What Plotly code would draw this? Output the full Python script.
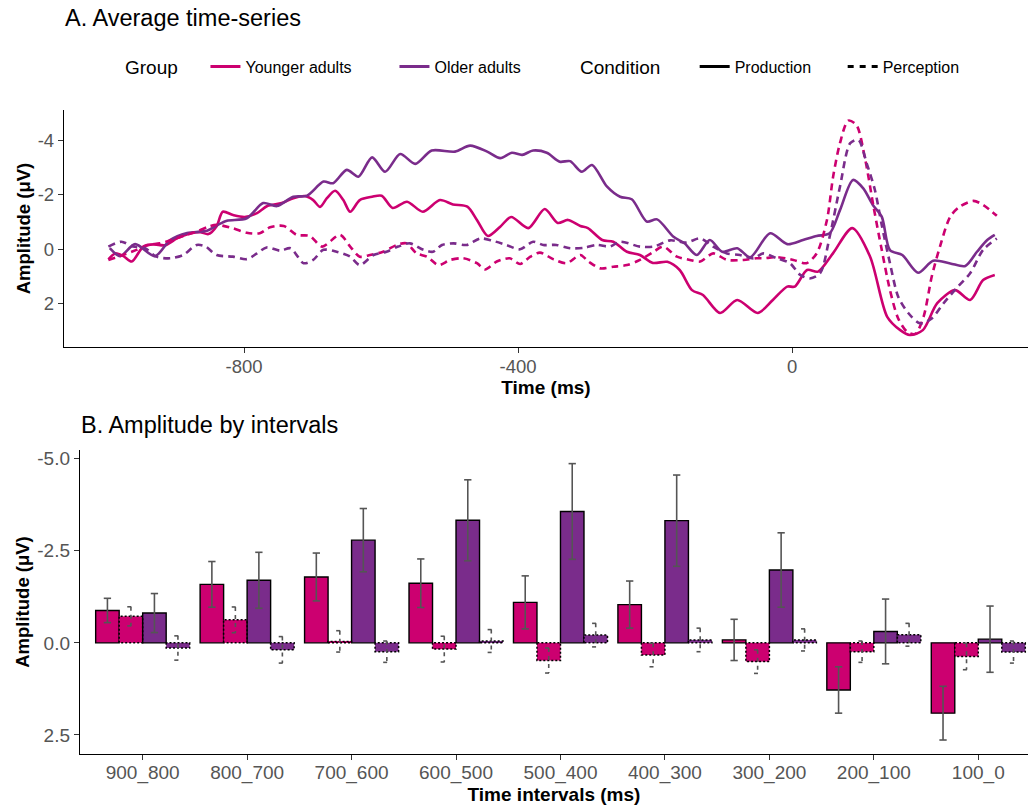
import plotly.graph_objects as go

# ---------------- data: panel A (time series, ms / µV) ----------------
yp_t = [-998,-988,-976,-964,-947,-932,-915,-898,-879,-864,-852,-840,-831,-816,-799,-781,-766,-745,-728,-711,-699,-689,-679,-667,-655,-645,-631,-613,-599,-583,-562,-539,-514,-495,-474,-460,-444,-426,-410,-385,-361,-342,-327,-309,-298,-277,-261,-241,-222,-203,-182,-164,-146,-130,-105,-80,-50,-28,-7,4,22,38,60,88,114,139,158,172,191,212,238,260,279,296]
yp_v = [0.37,0.15,0.25,0.45,-0.1,-0.18,-0.15,-0.4,-0.58,-0.63,-0.56,-0.85,-1.38,-1.26,-1.19,-1.33,-1.59,-1.70,-1.88,-1.96,-1.81,-1.56,-1.88,-2.15,-1.81,-1.38,-1.81,-1.93,-1.97,-1.52,-1.75,-1.38,-1.81,-1.65,-1.57,-1.08,-0.49,-0.83,-1.19,-0.78,-1.48,-0.97,-1.08,-0.86,-0.78,-0.34,-0.28,0.09,0.21,0.50,0.46,0.76,1.50,1.68,2.34,1.86,2.34,1.86,1.37,1.37,0.76,0.82,0.14,-0.78,0.27,2.48,2.97,3.15,2.97,1.98,1.50,1.86,1.13,0.94]

ype_t = [-998,-981,-957,-940,-923,-906,-889,-869,-852,-840,-816,-796,-777,-762,-742,-723,-704,-686,-660,-645,-631,-616,-597,-577,-563,-548,-533,-516,-499,-480,-460,-448,-431,-412,-397,-382,-368,-348,-329,-309,-297,-280,-261,-241,-222,-202,-188,-168,-149,-134,-115,-95,-71,-52,-42,-22,2,21,36,51,60,70,82,94,107,119,131,143,155,168,180,192,204,216,231,245,265,279,299]
ype_v = [0.39,0.25,0.02,-0.16,-0.22,-0.34,-0.49,-0.65,-0.83,-0.90,-0.77,-0.61,-0.59,-0.81,-0.86,-0.53,-0.49,-0.10,-0.53,-0.10,0.27,0.21,0.09,-0.16,-0.22,0.15,0.27,0.58,0.39,0.33,0.51,0.74,0.45,0.33,0.54,0.27,0.12,0.37,0.51,0.21,0.45,0.70,0.64,0.58,0.39,0.09,-0.10,0.27,0.39,0.45,0.15,0.39,0.39,0.33,0.33,0.29,0.39,0.51,0.15,-1.08,-2.67,-3.90,-4.73,-4.57,-3.28,-1.57,0.02,1.50,2.54,3.03,3.11,2.48,1.00,-0.10,-1.20,-1.57,-1.78,-1.63,-1.23]

op_t = [-996,-981,-959,-930,-908,-883,-854,-839,-825,-796,-772,-752,-728,-708,-684,-670,-650,-633,-613,-594,-572,-550,-526,-492,-470,-445,-426,-409,-394,-378,-358,-339,-324,-307,-292,-270,-251,-234,-212,-197,-173,-157,-139,-120,-102,-80,-61,-32,-7,16,36,55,70,89,104,118,131,143,161,184,206,231,253,270,285,296]
op_v = [-0.04,0.25,-0.19,0.25,-0.34,-0.60,-0.68,-0.89,-1.05,-1.14,-1.70,-1.59,-1.93,-1.97,-2.49,-2.43,-2.92,-2.67,-3.38,-2.85,-3.50,-3.14,-3.63,-3.59,-3.81,-3.59,-3.35,-3.55,-3.47,-3.63,-3.55,-3.22,-3.24,-2.85,-3.10,-2.30,-1.93,-1.84,-1.02,-1.10,-0.46,-0.22,0.21,-0.34,0.09,-0.04,0.29,-0.59,-0.19,-0.34,-0.49,-0.59,-1.44,-2.55,-2.24,-1.63,-1.20,0.03,0.21,0.86,0.42,0.52,0.61,0.09,-0.34,-0.53]

ope_t = [-998,-979,-962,-945,-928,-908,-889,-869,-856,-840,-816,-796,-781,-767,-747,-732,-713,-699,-684,-665,-645,-631,-611,-592,-575,-558,-538,-524,-511,-494,-475,-455,-438,-417,-397,-378,-363,-344,-324,-305,-285,-266,-251,-222,-202,-178,-154,-134,-115,-95,-76,-56,-42,-22,-3,12,26,41,55,70,85,97,109,121,131,143,155,170,187,204,221,240,260,279,299]
ope_v = [-0.10,-0.28,-0.10,-0.05,0.27,0.33,0.21,-0.16,-0.10,0.21,0.27,0.36,0.15,-0.07,0.05,-0.04,0.51,0.39,0.02,0.09,0.27,0.58,0.21,0.09,-0.10,-0.22,0.02,0.09,-0.16,-0.22,-0.16,-0.40,-0.32,-0.16,0.00,-0.28,-0.16,-0.16,-0.04,-0.05,-0.16,-0.10,-0.28,-0.10,-0.10,-0.33,-0.25,-0.40,-0.10,0.15,0.21,0.33,0.15,0.33,0.51,0.94,1.07,0.88,-0.47,-2.30,-3.90,-4.02,-3.16,-2.18,-0.89,0.51,1.74,2.35,2.72,2.54,1.99,1.43,0.88,0.02,-0.40]

time_ticks = [-800, -400, 0]
time_ticktext = ["-800", "-400", "0"]
amp_ticks_a = [-4, -2, 0, 2]
amp_ticktext_a = ["-4", "-2", "0", "2"]

# ---------------- data: panel B (interval means, µV) ----------------
intervals = ["900_800", "800_700", "700_600", "600_500", "500_400",
             "400_300", "300_200", "200_100", "100_0"]
young_prod = [-0.88, -1.59, -1.79, -1.62, -1.10, -1.04, -0.08, 1.28, 1.91]
young_prod_se = [0.33, 0.62, 0.65, 0.66, 0.72, 0.64, 0.56, 0.63, 0.73]
young_perc = [-0.72, -0.625, -0.04, 0.17, 0.48, 0.33, 0.51, 0.24, 0.37]
young_perc_se = [0.26, 0.35, 0.29, 0.35, 0.34, 0.32, 0.32, 0.29, 0.36]
old_prod = [-0.81, -1.70, -2.79, -3.33, -3.57, -3.32, -1.98, -0.31, -0.10]
old_prod_se = [0.53, 0.76, 0.86, 1.10, 1.30, 1.24, 1.01, 0.88, 0.90]
old_perc = [0.14, 0.19, 0.24, -0.05, -0.21, -0.08, -0.08, -0.22, 0.25]
old_perc_se = [0.33, 0.36, 0.29, 0.31, 0.32, 0.32, 0.30, 0.31, 0.30]
amp_ticks_b = [-5, -2.5, 0, 2.5]
amp_ticktext_b = ["-5.0", "-2.5", "0.0", "2.5"]

# ---------------- styles ----------------
PINK = "#CC0070"
PURPLE = "#7A2C8B"
ERR = "#555555"
W, H = 1028, 805
FONT = "Liberation Sans, Arial, sans-serif"
TICKFONT_A = dict(family=FONT, size=18.5, color="#555555")
TICKFONT_B = dict(family=FONT, size=19, color="#555555")
XTITLEFONT = dict(family=FONT, size=19, color="black")
YTITLEFONT = dict(family=FONT, size=18.5, color="black")
DASH = "7px,5px"
NB = "\u00a0"

fig = go.Figure()

# ---- panel A lines ----
for t, v, col, dash in [(yp_t, yp_v, PINK, "solid"), (op_t, op_v, PURPLE, "solid"),
                        (ype_t, ype_v, PINK, DASH), (ope_t, ope_v, PURPLE, DASH)]:
    fig.add_trace(go.Scatter(x=t, y=v, mode="lines", showlegend=False,
                             line=dict(color=col, width=2.6, dash=dash, shape="spline", smoothing=0.8),
                             xaxis="x", yaxis="y", hoverinfo="skip"))

# ---- legends (dummy entries) ----
fig.add_trace(go.Scatter(x=[None], y=[None], mode="lines", name="Younger adults",
                         line=dict(color=PINK, width=3), legend="legend"))
fig.add_trace(go.Scatter(x=[None], y=[None], mode="lines", name="Older adults",
                         line=dict(color=PURPLE, width=3), legend="legend"))
fig.add_trace(go.Scatter(x=[None], y=[None], mode="lines", name="Production",
                         line=dict(color="black", width=3), legend="legend2"))
fig.add_trace(go.Scatter(x=[None], y=[None], mode="lines", name="Perception",
                         line=dict(color="black", width=3, dash="6px,6px"), legend="legend2"))

# ---- panel B bars ----
BW = 0.225
series = [
    (young_prod, young_prod_se, PINK, False, -1.5 * BW),
    (young_perc, young_perc_se, PINK, True, -0.5 * BW),
    (old_prod, old_prod_se, PURPLE, False, 0.5 * BW),
    (old_perc, old_perc_se, PURPLE, True, 1.5 * BW),
]
CAP = 0.035
for vals, se, col, perc, off in series:
    xs = [i + off for i in range(len(intervals))]
    fig.add_trace(go.Bar(x=xs, y=vals, width=BW, marker=dict(color=col,
                         line=dict(color="black", width=0 if perc else 1.4)),
                         showlegend=False, xaxis="x2", yaxis="y2", hoverinfo="skip"))
    if perc:
        ox, oy = [], []
        for x, v in zip(xs, vals):
            ox += [x - BW / 2, x - BW / 2, x + BW / 2, x + BW / 2, x - BW / 2, None]
            oy += [0, v, v, 0, 0, None]
        fig.add_trace(go.Scatter(x=ox, y=oy, mode="lines", showlegend=False,
                                 line=dict(color="black", width=1.5, dash="2px,2px"),
                                 xaxis="x2", yaxis="y2", hoverinfo="skip"))
    ex, ey = [], []
    for x, v, s in zip(xs, vals, se):
        ex += [x, x, None, x - CAP, x + CAP, None, x - CAP, x + CAP, None]
        ey += [v - s, v + s, None, v - s, v - s, None, v + s, v + s, None]
    fig.add_trace(go.Scatter(x=ex, y=ey, mode="lines", showlegend=False,
                             line=dict(color=ERR, width=1.6, dash="4px,4px" if perc else "solid"),
                             xaxis="x2", yaxis="y2", hoverinfo="skip"))

axis_common = dict(showline=True, linecolor="black", linewidth=1.4, ticks="outside",
                   ticklen=5, tickwidth=1.2, tickcolor="#333333",
                   showgrid=False, zeroline=False, automargin=False)

fig.update_layout(
    width=W, height=H,
    margin=dict(l=0, r=0, t=0, b=0),
    paper_bgcolor="white", plot_bgcolor="white",
    font=dict(family=FONT),
    barmode="overlay",
    xaxis=dict(domain=[64 / W, 1], range=[-1062.8, 344.5], tickvals=time_ticks,
               ticktext=time_ticktext, tickfont=TICKFONT_A, ticklabelstandoff=-2,
               title=dict(text="<b>Time (ms)</b>", font=XTITLEFONT, standoff=0),
               anchor="y", **axis_common),
    yaxis=dict(domain=[1 - 347 / H, 1 - 110 / H], range=[3.59, -5.12], tickvals=amp_ticks_a,
               ticktext=amp_ticktext_a, tickfont=TICKFONT_A,
               title=dict(text="<b>Amplitude (μV)</b>", font=YTITLEFONT, standoff=2),
               anchor="x", **axis_common),
    xaxis2=dict(domain=[80 / W, 1], range=[-0.6, 8.476], tickvals=list(range(len(intervals))),
                ticktext=intervals, tickfont=TICKFONT_B, ticklabelstandoff=-4,
                title=dict(text="<b>Time intervals (ms)</b>", font=XTITLEFONT, standoff=0),
                anchor="y2", **axis_common),
    yaxis2=dict(domain=[1 - 754 / H, 1 - 450 / H], range=[3.02, -5.24],
                tickvals=amp_ticks_b, ticktext=amp_ticktext_b, tickfont=TICKFONT_B,
                title=dict(text="<b>Amplitude (μV)</b>", font=YTITLEFONT, standoff=2),
                anchor="x2", **axis_common),
    legend=dict(orientation="h", x=123 / W, y=1 - 67 / H, xanchor="left", yanchor="middle",
                title=dict(text="Group" + NB * 3 + "\u2009",
                           font=dict(family=FONT, size=19, color="black")),
                font=dict(family=FONT, size=16, color="black"), bgcolor="rgba(0,0,0,0)",
                itemwidth=30, entrywidth=144, entrywidthmode="pixels"),
    legend2=dict(orientation="h", x=578 / W, y=1 - 67 / H, xanchor="left", yanchor="middle",
                 title=dict(text="Condition" + NB * 5, font=dict(family=FONT, size=19, color="black")),
                 font=dict(family=FONT, size=16, color="black"), bgcolor="rgba(0,0,0,0)",
                 itemwidth=30, entrywidth=103, entrywidthmode="pixels"),
    annotations=[
        dict(text="A. Average time-series", x=63 / W, y=1 - 18 / H, xref="paper", yref="paper",
             xanchor="left", yanchor="middle", showarrow=False,
             font=dict(family=FONT, size=23.5, color="black")),
        dict(text="B. Amplitude by intervals", x=79 / W, y=1 - 425 / H, xref="paper", yref="paper",
             xanchor="left", yanchor="middle", showarrow=False,
             font=dict(family=FONT, size=23.5, color="black")),
    ],
)

fig.write_html("out.html", post_script="document.body.style.margin='0';",
               config={"displayModeBar": False})
